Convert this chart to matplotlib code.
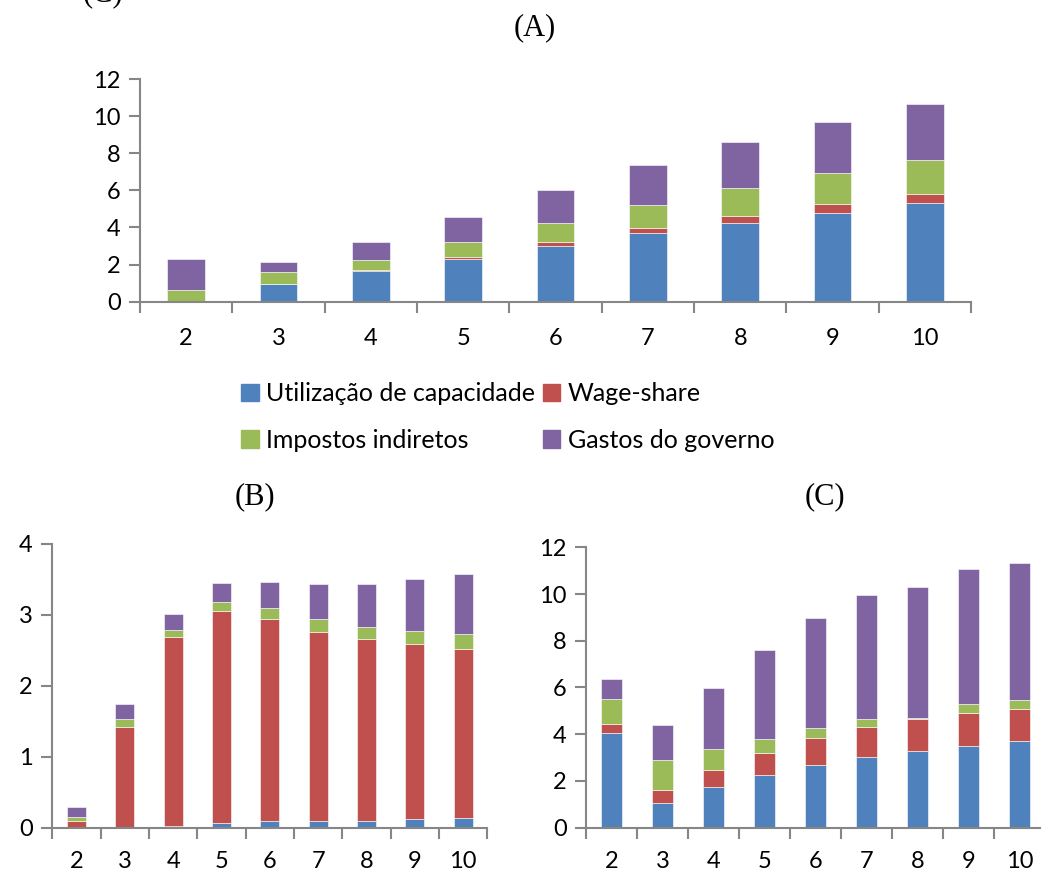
import numpy as np
import matplotlib.pyplot as plt
from matplotlib.patches import Patch
from matplotlib.ticker import FixedLocator, NullFormatter

plt.rcParams['font.family'] = ['Lato', 'DejaVu Sans']

# dados
periodos = ['2', '3', '4', '5', '6', '7', '8', '9', '10']
series = ['Utilização de capacidade', 'Wage-share', 'Impostos indiretos', 'Gastos do governo']
cores = ['#4F81BD', '#C0504D', '#9BBB59', '#8064A2']

a_util = [0.00, 0.97, 1.64, 2.28, 3.02, 3.68, 4.26, 4.80, 5.30]
a_wage = [0.00, 0.00, 0.05, 0.13, 0.20, 0.29, 0.37, 0.46, 0.52]
a_imp = [0.63, 0.63, 0.57, 0.81, 1.02, 1.22, 1.50, 1.66, 1.83]
a_gast = [1.67, 0.56, 0.94, 1.36, 1.76, 2.16, 2.47, 2.76, 3.00]

b_util = [0.00, 0.00, 0.02, 0.07, 0.09, 0.10, 0.10, 0.12, 0.13]
b_wage = [0.09, 1.42, 2.67, 2.99, 2.85, 2.66, 2.56, 2.47, 2.39]
b_imp = [0.06, 0.11, 0.10, 0.12, 0.16, 0.18, 0.17, 0.18, 0.21]
b_gast = [0.14, 0.21, 0.22, 0.27, 0.37, 0.49, 0.61, 0.73, 0.85]

c_util = [4.04, 1.04, 1.73, 2.24, 2.68, 3.03, 3.30, 3.51, 3.70]
c_wage = [0.38, 0.57, 0.75, 0.97, 1.16, 1.28, 1.37, 1.41, 1.39]
c_imp = [1.07, 1.29, 0.87, 0.57, 0.41, 0.34, 0.02, 0.36, 0.38]
c_gast = [0.86, 1.50, 2.61, 3.83, 4.73, 5.31, 5.63, 5.79, 5.86]

cinza = '#868686'


def barras(ax, dados, ymax, passo, largura, fs, pad):
    x = np.arange(len(periodos))
    base = np.zeros(len(periodos))
    for valores, cor in zip(dados, cores):
        ax.bar(x, valores, largura, bottom=base, color=cor,
               edgecolor='white', linewidth=0.4)
        base += np.array(valores)
    ax.set_xlim(-0.5, len(periodos) - 0.5)
    ax.set_ylim(0, ymax)
    ax.set_yticks(np.arange(0, ymax + 0.01, passo))
    ax.set_xticks(x)
    ax.set_xticklabels(periodos)
    ax.xaxis.set_minor_locator(FixedLocator(np.arange(-0.5, len(periodos), 1)))
    ax.xaxis.set_minor_formatter(NullFormatter())
    ax.tick_params(axis='x', which='major', length=0, labelsize=fs, pad=pad)
    ax.tick_params(axis='x', which='minor', length=8, width=1.5, color=cinza)
    ax.tick_params(axis='y', length=8, width=1.5, color=cinza, labelsize=fs, pad=6)
    for s in ['top', 'right']:
        ax.spines[s].set_visible(False)
    for s in ['left', 'bottom']:
        ax.spines[s].set_color(cinza)
        ax.spines[s].set_linewidth(1.5)


fig = plt.figure(figsize=(10.41, 8.73), dpi=100)

axA = fig.add_axes([0.1345, 0.6544, 0.7983, 0.2551])
barras(axA, [a_util, a_wage, a_imp, a_gast], 12, 2, 0.41, 17, 19)

axB = fig.add_axes([0.0502, 0.0519, 0.4179, 0.325])
barras(axB, [b_util, b_wage, b_imp, b_gast], 4, 1, 0.39, 17, 17)

axC = fig.add_axes([0.5629, 0.0519, 0.4409, 0.3212])
barras(axC, [c_util, c_wage, c_imp, c_gast], 12, 2, 0.40, 17, 17)

titulo = dict(family='Liberation Serif', fontsize=22, ha='center', va='center')
fig.text(535 / 1041, 1 - 28 / 873, '(A)', **titulo)
fig.text(255 / 1041, 1 - 497 / 873, '(B)', **titulo)
fig.text(825 / 1041, 1 - 497 / 873, '(C)', **titulo)
fig.text(103 / 1041, 1 - 1 / 873, '(C)', family='Liberation Serif', fontsize=22,
         ha='center', va='baseline')

ordem = [0, 2, 1, 3]
fig.legend(handles=[Patch(color=cores[i]) for i in ordem],
           labels=[series[i] for i in ordem],
           ncol=2, loc='center', bbox_to_anchor=(508 / 1041, 1 - 417 / 873),
           frameon=False, fontsize=18, handlelength=0.7, handleheight=0.7,
           handletextpad=0.3, columnspacing=0.3, labelspacing=0.95)

fig.savefig('out.png', dpi=100)
